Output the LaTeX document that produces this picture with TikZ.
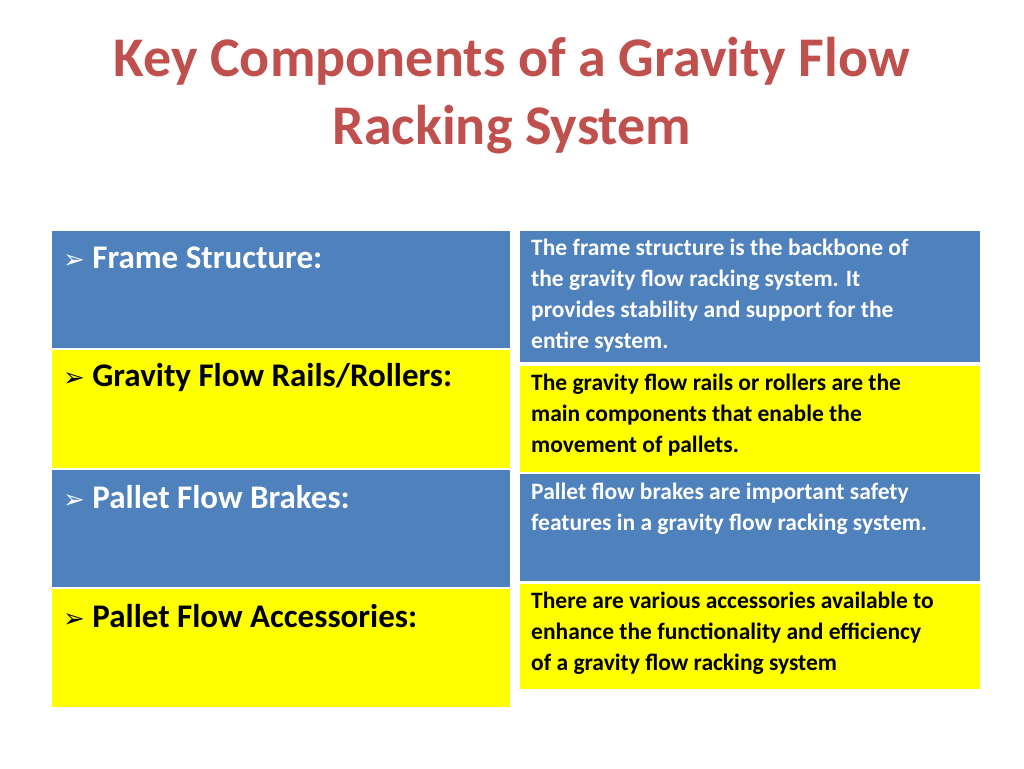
\documentclass[tikz,border=0pt]{standalone}
\usepackage{fontspec}
\setmainfont{Carlito}
\newfontfamily\bulletfont{DejaVu Sans}
\definecolor{tblue}{HTML}{4F81BD}
\definecolor{tyel}{HTML}{FFFF00}
\definecolor{ttitle}{HTML}{C0504D}
\newcommand{\bul}{{\bulletfont\fontsize{26}{30}\selectfont ➢}}
\begin{document}
\begin{tikzpicture}[x=1pt,y=-1pt,
  cellb/.style={fill=tblue,draw=none},
  celly/.style={fill=tyel,draw=none},
  lt/.style={anchor=west,font=\fontsize{33}{38}\selectfont\bfseries,inner sep=0pt},
  rt/.style={anchor=north west,font=\fontsize{23.5}{31}\selectfont\bfseries,inner sep=0pt,align=left}]
\useasboundingbox[fill=white] (0,0) rectangle (1024,768);
\node[font=\fontsize{56}{68}\selectfont\bfseries,text=ttitle,align=center] (title) at (512,96) {Key Components of a Gravity Flow\\Racking System};
% left column
\fill[cellb] (52,231) rectangle (510,348);
\fill[celly] (52,350) rectangle (510,468);
\fill[cellb] (52,470) rectangle (510,587);
\fill[celly] (52,589) rectangle (510,707);
% right column
\fill[cellb] (520,231) rectangle (980,362);
\fill[celly] (520,366) rectangle (980,472);
\fill[cellb] (520,474) rectangle (980,581);
\fill[celly] (520,584) rectangle (980,689);
\node[lt,text=white] (l1) at (63,258) {\bul\ Frame Structure:};
\node[lt,text=black] (l2) at (63,378) {\bul\ Gravity Flow Rails/Rollers:};
\node[lt,text=white] (l3) at (63,497) {\bul\ Pallet Flow Brakes:};
\node[lt,text=black] (l4) at (63,616) {\bul\ Pallet Flow Accessories:};
\node[rt,text=white] (r1) at (531,239) {The frame structure is the backbone of\\the gravity flow racking system. It\\provides stability and support for the\\entire system.};
\node[rt,text=black] (r2) at (531,374) {The gravity flow rails or rollers are the\\main components that enable the\\movement of pallets.};
\node[rt,text=white] (r3) at (531,483) {Pallet flow brakes are important safety\\features in a gravity flow racking system.};
\node[rt,text=black] (r4) at (531,592) {There are various accessories available to\\enhance the functionality and efficiency\\of a gravity flow racking system};
\end{tikzpicture}
\end{document}
